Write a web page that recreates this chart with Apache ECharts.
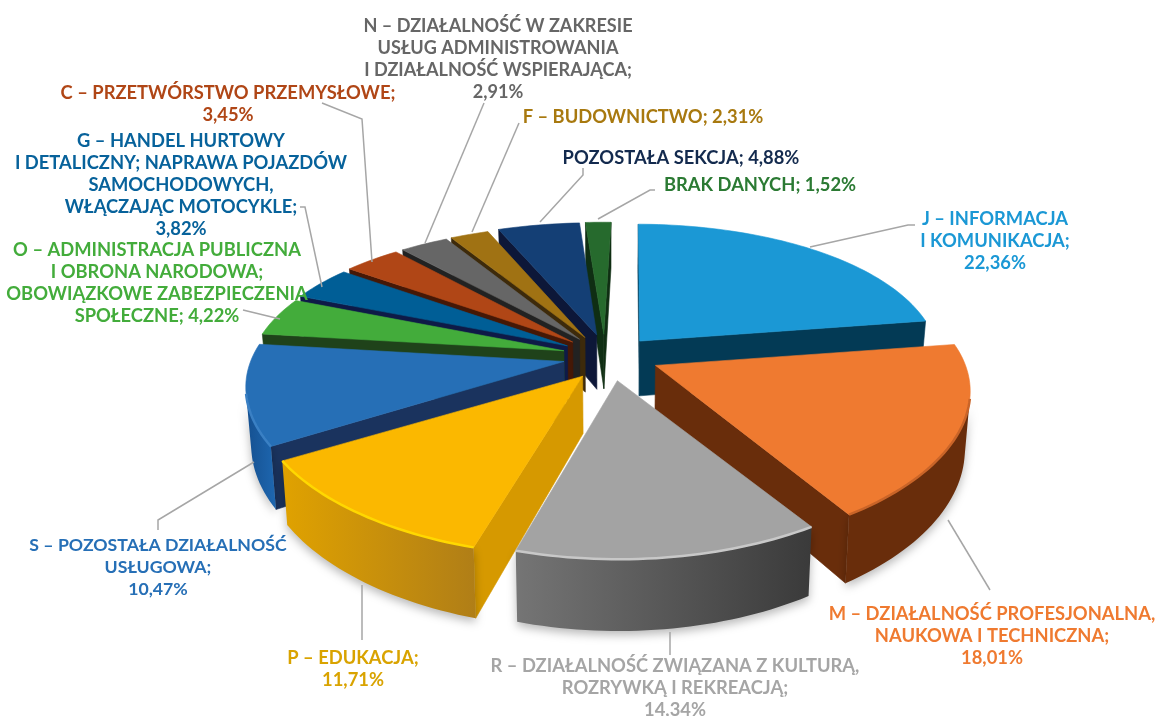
<!DOCTYPE html>
<html><head><meta charset="utf-8">
<style>html,body{margin:0;padding:0;background:#fff}#c{width:1156px;height:716px}</style>
<script src="https://cdn.jsdelivr.net/npm/echarts@6/dist/echarts.min.js"></script>
</head><body><div id="c"></div>
<script>
// ---- data ----
const categories = [
 "J – INFORMACJA\nI KOMUNIKACJA;\n{v}",
 "M – DZIAŁALNOŚĆ PROFESJONALNA,\nNAUKOWA I TECHNICZNA;\n{v}",
 "R – DZIAŁALNOŚĆ ZWIĄZANA Z KULTURĄ,\nROZRYWKĄ I REKREACJĄ;\n{v}",
 "P – EDUKACJA;\n{v}",
 "S – POZOSTAŁA DZIAŁALNOŚĆ\nUSŁUGOWA;\n{v}",
 "O – ADMINISTRACJA PUBLICZNA\nI OBRONA NARODOWA;\nOBOWIĄZKOWE ZABEZPIECZENIA\nSPOŁECZNE; {v}",
 "G – HANDEL HURTOWY\nI DETALICZNY; NAPRAWA POJAZDÓW\nSAMOCHODOWYCH,\nWŁĄCZAJĄC MOTOCYKLE;\n{v}",
 "C – PRZETWÓRSTWO PRZEMYSŁOWE;\n{v}",
 "N – DZIAŁALNOŚĆ W ZAKRESIE\nUSŁUG ADMINISTROWANIA\nI DZIAŁALNOŚĆ WSPIERAJĄCA;\n{v}",
 "F – BUDOWNICTWO; {v}",
 "POZOSTAŁA SEKCJA; {v}",
 "BRAK DANYCH; {v}"
];
const values = [22.36,18.01,14.34,11.71,10.47,4.22,3.82,3.45,2.91,2.31,4.88,1.52];
// ---- styles ----
const topColors = ['#1B98D5','#EF7A30','#A3A3A3','#FBB800','#266FB6','#43AC3B','#005E96','#B04616','#666666','#A07213','#143F75','#266A2D'];
const sideColors= ['#033A55','#692D0B','#555555','#D69900','#1A335E','#1F421A','#0E1A47','#451806','#222222','#3D2A0B','#0D1738','#0F2E13'];
const wallFrom  = ['#0F6FA0','#692D0B','#757575','#E0A200','#1E67B0','#2B7A28','#004A78','#7A3010','#444444','#6B4C0C','#0E2C55','#1A4A20'];
const wallTo    = ['#0A5070','#692D0B','#3A3A3A','#B07E17','#155090','#1F5A1C','#003558','#5A220A','#333333','#503808','#0A1F3D','#123516'];
const rimColors = ['#3FB0E5','#C96428','#C8C8C8','#FFD800','#3A80C4','#62C45A','#2A82B8','#CC6230','#888888','#C09030','#2F5F98','#3F8A48'];
const textColors= ['#1B98D5','#EF7A30','#A5A5A5','#D9A300','#266FB6','#43AC3B','#07629B','#B04616','#666666','#A8790F','#132A4E','#2B7A33'];
const labelPos = [[995,208],[992,603],[675,655],[353,647],[158,534],[157,239],[181,130],[228,82],[498,15],[643,106],[681,147],[760,174]];
const labelSize = [18.35,18.35,18.35,18.35,17.7,18.35,18.35,18.35,18.1,18.35,18.35,18.35];
const nudges = [[5,1],[7,1],[5,3],[7,3],[5,1],[4,0],[3,0],[2,0],[2,0],[1,0],[3,-1],[1,-1]];
const radialX = [0.965,0.985,1,1.015,1,1,1,1,1,1,1,1];
const radialY = [1.03,1,0.94,0.96,1,1,1,1,1,1,1,1];
const angleWarp = [[0,0.5],[83,1],[148,3],[197,-1],[240,-1],[300,1],[360,1.5]];
const leaders = [
 [[810,247],[908,225],[915,225]],
 [[948,520],[990,590]],
 [[670,632],[670,655]],
 [[362,585],[362,640]],
 [[254,462],[158,520],[158,530]],
 [[280,319],[243,310]],
 [[322,287],[305,207],[300,207]],
 [[372,262],[362,119],[322,103]],
 [[425,243],[484,103]],
 [[472,232],[519,123]],
 [[540,222],[583,175],[583,168]],
 [[598,219],[650,190],[655,190]]
];
// ---- projection ----
const P = {cx:605, cy:356, rx:312, ry:142, ky:0.2, kx:0.15, h:56, explode:0.15};
const total = values.reduce((a,b)=>a+b,0);
function warp(a){
  for(let i=0;i<angleWarp.length-1;i++){
    const p=angleWarp[i],q=angleWarp[i+1];
    if(a>=p[0]&&a<=q[0]) return a+p[1]+(q[1]-p[1])*(a-p[0])/(q[0]-p[0]);
  }
  return a;
}
function proj(u,v,bottom,nud){
  const s = 1/(1-P.ky*v), sx = 1/(1-P.kx*v);
  let X = P.cx + P.rx*u*sx, Y = P.cy + P.ry*v*s;
  if(bottom){ Y += P.h*s; X = P.cx + (X-P.cx)*0.985; }
  return [X+nud[0],Y+nud[1]];
}
function area(q){let a=0;for(let i=0;i<q.length;i++){const p=q[i],n=q[(i+1)%q.length];a+=p[0]*n[1]-n[0]*p[1];}return a/2;}
let acc=0;
const geo = values.map((val,i)=>{
  const a0=acc/total*360; acc+=val; const a1=acc/total*360;
  const mid=(a0+a1)/2*Math.PI/180;
  return {i,a0,a1,mid,ou:Math.sin(mid)*P.explode,ov:-Math.cos(mid)*P.explode,depth:-Math.cos(mid)};
});
const rank=[];[...geo].sort((a,b)=>a.depth-b.depth).forEach((g,r)=>rank[g.i]=r);

function renderSlice(params,api){
  const i=api.value(0), g=geo[i], kids=[], z=(rank[i]+1)*10, nud=nudges[i];
  const n=Math.max(6,Math.ceil((g.a1-g.a0)/1.5));
  const uv=[];
  for(let t=0;t<=n;t++){const a=warp(g.a0+(g.a1-g.a0)*t/n)*Math.PI/180;uv.push([Math.sin(a)+g.ou,-Math.cos(a)+g.ov]);}
  const aT=proj(g.ou,g.ov,false,nud), aB=proj(g.ou,g.ov,true,nud);
  const sc=(p,o)=>[o[0]+(p[0]-o[0])*radialX[i],o[1]+(p[1]-o[1])*radialY[i]];
  const T=uv.map(p=>sc(proj(p[0],p[1],false,nud),aT)), B=uv.map(p=>sc(proj(p[0],p[1],true,nud),aB));
  const poly=(pts,fill,zz,extra)=>kids.push({type:'polygon',z2:z+zz,shape:{points:pts},style:Object.assign({fill:fill,stroke:typeof fill==='string'?fill:null,lineWidth:0.6},extra||{})});
  const w1=[aT,T[0],B[0],aB], w2=[T[n],aT,aB,B[n]];
  if(area(w1)<0) poly(w1,sideColors[i],1);
  if(area(w2)<0) poly(w2,sideColors[i],1);
  let vis=[];
  for(let t=0;t<n;t++){ if(area([T[t],T[t+1],B[t+1],B[t]])<0) vis.push(t); }
  if(vis.length){
    const s=vis[0], e=vis[vis.length-1]+1;
    const pts=T.slice(s,e+1).concat(B.slice(s,e+1).reverse());
    const flip=(i===2||i===3);
    poly(pts,{type:'linear',x:0,y:0,x2:1,y2:0,colorStops:[{offset:0,color:flip?wallFrom[i]:wallTo[i]},{offset:1,color:flip?wallTo[i]:wallFrom[i]}]},2,{shadowBlur:10,shadowColor:'rgba(0,0,0,0.28)',shadowOffsetY:4});
    kids.push({type:'polyline',z2:z+4,shape:{points:T.slice(s,e+1)},style:{stroke:rimColors[i],lineWidth:2.5,fill:null}});
  }
  poly([aT].concat(T),topColors[i],3);
  return {type:'group',children:kids};
}
function renderLabel(params,api){
  const i=api.value(0), kids=[];
  kids.push({type:'polyline',z2:500,shape:{points:leaders[i]},style:{stroke:'#A6A6A6',lineWidth:1.5,fill:null}});
  const txt=categories[i].replace('{v}',values[i].toFixed(2).replace('.',',')+'%');
  kids.push({type:'text',z2:600,x:labelPos[i][0],y:labelPos[i][1],style:{text:txt,align:'center',verticalAlign:'top',fill:textColors[i],font:'bold '+labelSize[i]+'px Lato',lineHeight:22}});
  return {type:'group',children:kids};
}
const idx=values.map((v,i)=>[i,v]);
const chart=echarts.init(document.getElementById('c'),null,{renderer:'canvas'});
chart.setOption({animation:false,backgroundColor:'#fff',series:[
 {type:'custom',coordinateSystem:'none',renderItem:renderSlice,data:idx,silent:true,z:2},
 {type:'custom',coordinateSystem:'none',renderItem:renderLabel,data:idx,silent:true,z:3}
]});
</script></body></html>
